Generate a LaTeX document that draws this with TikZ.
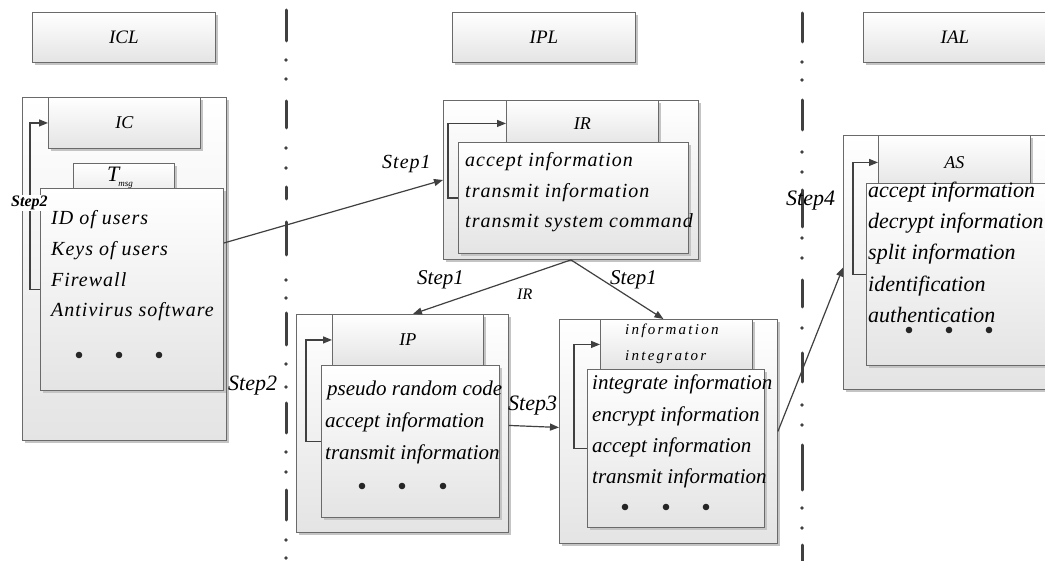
\documentclass[tikz,border=0pt]{standalone}
\usepackage{fontspec}
\setmainfont{Liberation Serif}
\newfontfamily\spacedA[LetterSpace=5]{Liberation Serif}
\newfontfamily\spacedB[LetterSpace=15]{Liberation Serif}
\usetikzlibrary{shadows,arrows.meta}
\definecolor{linec}{HTML}{404040}
\definecolor{borderc}{HTML}{6A6A6A}
\definecolor{fillb}{HTML}{E4E4E4}
\definecolor{shadowc}{HTML}{C4C4C4}
\begin{document}
\begin{tikzpicture}[x=1pt,y=-1pt,
  box/.style={draw=borderc, line width=0.9pt, top color=white, bottom color=fillb,
    drop shadow={shadow xshift=2.5pt, shadow yshift=-2.5pt, fill=shadowc, opacity=1},
    rectangle, inner sep=0pt, anchor=north west},
  conn/.style={draw=linec, line width=1.2pt, -{Triangle[length=9pt,width=7pt]}},
  dashl/.style={draw=linec, line width=3pt, line cap=round},
  hdr/.style={font=\fontsize{19}{20}\selectfont\itshape},
  ttl/.style={anchor=center, inner sep=0pt, font=\fontsize{18}{20}\selectfont\itshape},
  txtA/.style={anchor=base west, inner sep=0pt, font=\fontsize{20}{24}\selectfont\spacedA\itshape},
  txtB/.style={anchor=base west, inner sep=0pt, font=\fontsize{21}{24}\selectfont\itshape},
  txtC/.style={anchor=base west, inner sep=0pt, font=\fontsize{22}{24}\selectfont\itshape},
  stepl/.style={anchor=base west, inner sep=0pt, font=\fontsize{21}{24}\selectfont\itshape},
  dotc/.style={fill=black!85}
]
\clip (0,0) rectangle (1045,561);
\fill[white] (0,0) rectangle (1045,561);

% dash-dot separators
\foreach \a/\b in {10/41,101/128,187/199,222/255,313/345,403/433,490/520}
  \draw[dashl] (286,\a) -- (286,\b);
\foreach \d in {60,79,148,168,280,298,364,387,452,472,540,558}
  \fill[linec] (286,\d) circle (1.8);
\foreach \a/\b in {13/42,100/130,190/227,280/307,353/382,445/490,545/565}
  \draw[dashl] (802,\a) -- (802,\b);
\foreach \d in {62,80,152,172,238,258,328,405,425,508,528}
  \fill[linec] (802,\d) circle (1.8);

% header boxes
\node[box, hdr, minimum width=183pt, minimum height=50pt] (ICL) at (32,12) {ICL};
\node[box, hdr, minimum width=183pt, minimum height=50pt] (IPL) at (452,12) {IPL};
\node[box, hdr, minimum width=183pt, minimum height=50pt] (IAL) at (863,12) {IAL};

% ICL group
\node[box, minimum width=204pt, minimum height=343pt] (ICLo) at (22,97) {};
\node[box, minimum width=152pt, minimum height=51pt] (IC) at (48,97) {};
\node[ttl] (ICt) at (IC.center) {IC};
\node[box, minimum width=101pt, minimum height=40pt] (Tm) at (73,163) {};
\node[box, minimum width=183pt, minimum height=202pt] (ICLc) at (40,188) {};
\node[anchor=base west, inner sep=0pt] (Tmt) at (107,182)
  {\fontsize{22}{24}\selectfont\itshape T\kern-1pt\raisebox{-5pt}{\fontsize{9}{10}\selectfont msg}};
\node[txtA] (c1) at (51,225) {ID of users};
\node[txtA] (c2) at (51,256) {Keys of users};
\node[txtA] (c3) at (51,287) {Firewall};
\node[txtA] (c4) at (51,317) {Antivirus software};
\foreach \x in {79,119,159} \fill[dotc] (\x,355) circle (3.3);
\draw[conn] (ICLc.west) -- ++(-10,0) |- (IC.west);

% IR group
\node[box, minimum width=255pt, minimum height=159pt] (IRo) at (443,100) {};
\node[box, minimum width=152pt, minimum height=46pt] (IR) at (506,100) {};
\node[ttl] (IRt) at (IR.center) {IR};
\node[box, minimum width=230pt, minimum height=111pt] (IRc) at (458,142) {};
\node[txtA] (r1) at (465,167) {accept information};
\node[txtA] (r2) at (465,198) {transmit information};
\node[txtA] (r3) at (465,228) {transmit system command};
\draw[conn] (IRc.west) -- ++(-10,0) |- (IR.west);

% IP group
\node[box, minimum width=212pt, minimum height=218pt] (IPo) at (296,314) {};
\node[box, minimum width=151pt, minimum height=51pt] (IP) at (332,314) {};
\node[ttl] (IPt) at (IP.center) {IP};
\node[box, minimum width=178pt, minimum height=152pt] (IPc) at (321,365) {};
\node[txtB] (p1) at (327,396) {pseudo random code};
\node[txtB] (p2) at (325,428) {accept information};
\node[txtB] (p3) at (325,459) {transmit information};
\foreach \x in {362,402,443} \fill[dotc] (\x,486) circle (3.3);
\draw[conn] (IPc.west) -- ++(-15,0) |- (IP.west);

% information integrator group
\node[box, minimum width=218pt, minimum height=224pt] (IIo) at (559,319) {};
\node[box, minimum width=152pt, minimum height=50pt] (II) at (600,319) {};
\node[anchor=base west, inner sep=0pt, font=\fontsize{15}{18}\selectfont\spacedB\itshape] (IIt1) at (625,335) {information};
\node[anchor=base west, inner sep=0pt, font=\fontsize{15}{18}\selectfont\spacedB\itshape] (IIt2) at (625,361) {integrator};
\node[box, minimum width=177pt, minimum height=158pt] (IIc) at (587,369) {};
\node[txtB] (i1) at (592,390) {integrate information};
\node[txtB] (i2) at (592,421) {encrypt information};
\node[txtB] (i3) at (592,453) {accept information};
\node[txtB] (i4) at (592,483) {transmit information};
\foreach \x in {625,666,706} \fill[dotc] (\x,507) circle (3.3);
\draw[conn] (IIc.west) -- ++(-13,0) |- (II.west);

% AS group
\node[box, minimum width=220pt, minimum height=254pt] (ASo) at (843,135) {};
\node[box, minimum width=152pt, minimum height=54pt] (AS) at (878,135) {};
\node[ttl] (ASt) at (AS.center) {AS};
\node[box, minimum width=200pt, minimum height=182pt] (ASc) at (866,183) {};
\node[txtC] (a1) at (868,198) {accept information};
\node[txtC] (a2) at (868,229) {decrypt information};
\node[txtC] (a3) at (868,260) {split information};
\node[txtC] (a4) at (868,292) {identification};
\node[txtC] (a5) at (868,323) {authentication};
\foreach \x in {909,949,989} \fill[dotc] (\x,330) circle (3.3);
\draw[conn] (ASc.west) -- ++(-13,0) |- (AS.west);

% connectors between groups
\draw[conn] ([yshift=-55pt]ICLc.north east) -- ([yshift=-80pt]IRo.north west);
\draw[conn] (IRo.south) -- ([xshift=5pt]IP.north);
\draw[conn] (IRo.south) -- ([xshift=-5pt]IIo.north);
\draw[conn] ([yshift=-2pt]IPo.east) -- ([yshift=4pt]IIo.west);
\draw[conn] (IIo.east) -- ([yshift=-5pt]ASo.west);

% step labels
\node[anchor=base west, inner sep=0pt, font=\fontsize{20}{24}\selectfont\spacedA\itshape] (s1a) at (382,169) {Step1};
\node[stepl] (s1b) at (417,285) {Step1};
\node[stepl] (s1c) at (610,285) {Step1};
\node[anchor=base west, inner sep=0pt, font=\fontsize{16}{18}\selectfont\itshape] (irl) at (517,300) {IR};
\node[txtC] (s2) at (228,391) {Step2};
\node[txtC] (s3) at (508,410) {Step3};
\node[txtC] (s4) at (786,206) {Step4};
\node[anchor=base west, fill=white, inner sep=1pt, font=\fontsize{16}{18}\selectfont\bfseries\itshape] (s2b) at (10,207) {Step2};
\end{tikzpicture}
\end{document}
